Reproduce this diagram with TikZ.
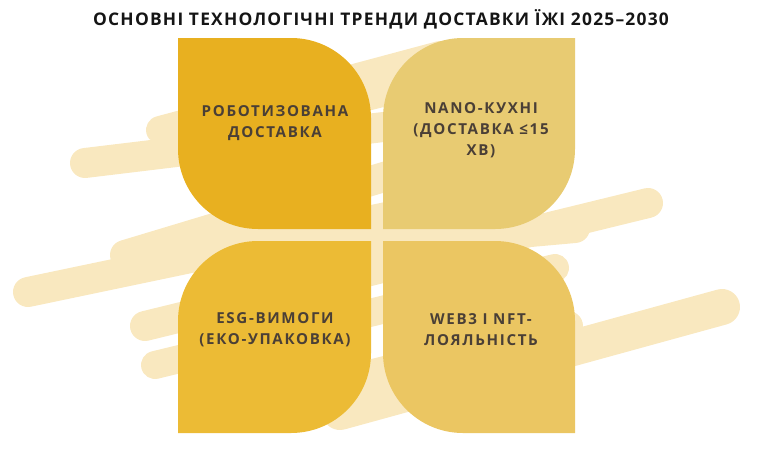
\documentclass[tikz,border=0pt]{standalone}
\usepackage{fontspec}
\setmainfont{Open Sans}
\newfontfamily\titlefont{Open Sans}[LetterSpace=7]
\newfontfamily\leaffont{Open Sans}[LetterSpace=11]
\definecolor{cream}{HTML}{F9E8BF}
\definecolor{leafgold}{HTML}{E8B020}
\definecolor{leafsand}{HTML}{E8CB72}
\definecolor{leafamber}{HTML}{ECBB35}
\definecolor{leafhoney}{HTML}{EBC662}
\definecolor{inkbrown}{HTML}{4A3F36}
\definecolor{inkblack}{HTML}{151515}
\tikzset{
  brush/.style={draw=cream, line width=0.6cm, line cap=round},
  leaftext/.style={text=inkbrown, align=center,
    font=\leaffont\bfseries\fontsize{8.6}{11.9}\selectfont},
  headline/.style={text=inkblack, font=\titlefont\bfseries\fontsize{9.9}{11}\selectfont}
}

\begin{document}
\begin{tikzpicture}[x=0.02cm, y=-0.02cm]
  \useasboundingbox (0,0) rectangle (763,450);

  % brush strokes behind the leaves
  \draw[brush, line width=0.56cm] (160,130) -- (440,55);
  \draw[brush] (250,125) -- (450,75);
  \draw[brush] (85,163) -- (400,125);
  \draw[brush] (125,255) -- (540,130);
  \draw[brush] (28,292) -- (420,210);
  \draw[brush] (145,326) -- (648,203);
  \draw[brush] (330,250) -- (575,228);
  \draw[brush, line width=0.56cm] (155,365) -- (555,268);
  \draw[brush] (300,392) -- (568,326);
  \draw[brush, line width=0.72cm] (722,307) -- (340,412);

  % four leaves
  \fill[leafgold] (178,38) -- (291,38) .. controls (335.2,38) and (371,73.8) .. (371,118)
    -- (371,229) -- (258,229) .. controls (213.8,229) and (178,193.2) .. (178,149) -- cycle;
  \fill[leafsand] (463,38) -- (575,38) -- (575,149) .. controls (575,193.2) and (539.2,229) .. (495,229)
    -- (383,229) -- (383,118) .. controls (383,73.8) and (418.8,38) .. (463,38) -- cycle;
  \fill[leafamber] (258,241) -- (371,241) -- (371,353) .. controls (371,397.2) and (335.2,433) .. (291,433)
    -- (178,433) -- (178,321) .. controls (178,276.8) and (213.8,241) .. (258,241) -- cycle;
  \fill[leafhoney] (383,241) -- (495,241) .. controls (539.2,241) and (575,276.8) .. (575,321)
    -- (575,433) -- (463,433) .. controls (418.8,433) and (383,397.2) .. (383,353) -- cycle;

  % texts
  \node[headline] (title) at (381,19) {ОСНОВНІ ТЕХНОЛОГІЧНІ ТРЕНДИ ДОСТАВКИ ЇЖІ 2025–2030};
  \node[leaftext] (robot) at (275,123) {РОБОТИЗОВАНА\\ДОСТАВКА};
  \node[leaftext] (nano) at (481,130) {NANO-КУХНІ\\(ДОСТАВКА ≤15\\ХВ)};
  \node[leaftext] (esg) at (275,330) {ESG-ВИМОГИ\\(ЕКО-УПАКОВКА)};
  \node[leaftext] (web) at (481,330) {WEB3 І NFT-\\ЛОЯЛЬНІСТЬ};
\end{tikzpicture}
\end{document}
